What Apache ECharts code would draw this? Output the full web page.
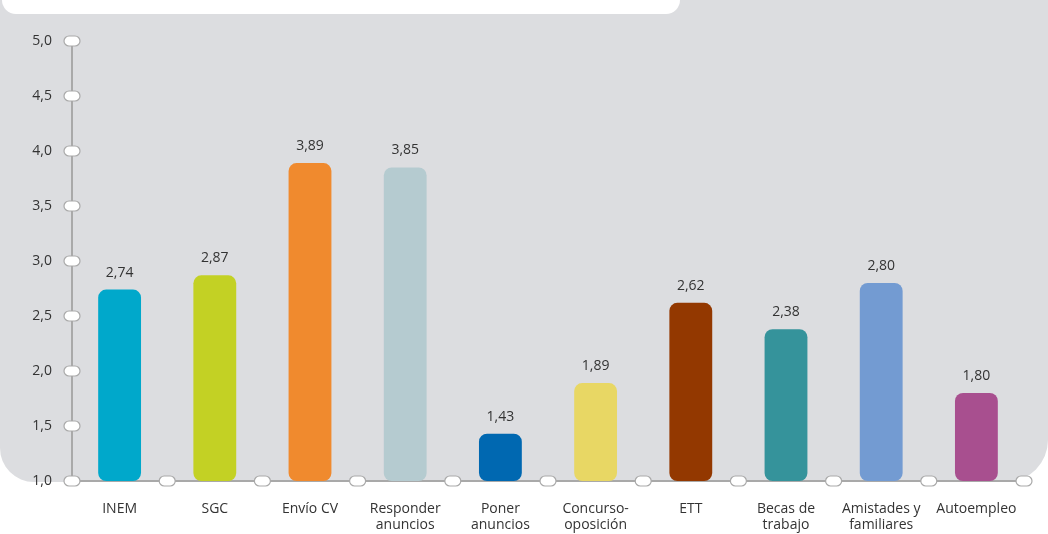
<!DOCTYPE html>
<html><head><meta charset="utf-8">
<script src="https://cdn.jsdelivr.net/npm/echarts@6/dist/echarts.min.js"></script>
<style>html,body{margin:0;padding:0;background:#fff}#c{width:1048px;height:534px}</style>
</head><body><div id="c"></div>
<script>
const categories = ['INEM','SGC','Envío CV','Responder\nanuncios','Poner\nanuncios','Concurso-\noposición','ETT','Becas de\ntrabajo','Amistades y\nfamiliares','Autoempleo'];
const values = [2.74, 2.87, 3.89, 3.85, 1.43, 1.89, 2.62, 2.38, 2.80, 1.80];
const colors = ['#00a8cb','#c3d124','#f08a2e','#b5cbd0','#0068b1','#e8d764','#933800','#35939b','#739bd2','#a84f8f'];
const yTicks = [1.0,1.5,2.0,2.5,3.0,3.5,4.0,4.5,5.0];
const xBounds = [0,1,2,3,4,5,6,7,8,9,10];

const fmt = v => v.toFixed(2).replace('.', ',');
const chart = echarts.init(document.getElementById('c'), null, {renderer:'canvas'});
const FONT = 'Open Sans';

function oval(x, y){
  return {type:'rect', shape:{x:x-8, y:y-5, width:16, height:10, r:5},
    style:{fill:'#fff', stroke:'#a9a9a9', lineWidth:1.2}, z2:10};
}

chart.setOption({
  animation:false,
  graphic:[
    {type:'rect', z:-10, shape:{x:0, y:-40, width:1048, height:522, r:[0,0,42,34]}, style:{fill:'#dcdde0'}},
    {type:'rect', z:-9, shape:{x:2, y:-40, width:678, height:54, r:[0,0,14,14]}, style:{fill:'#ffffff'}}
  ],
  grid:{left:72, right:24, top:41, bottom:53},
  xAxis:{type:'category', data:categories,
    axisLine:{lineStyle:{color:'#a9a9a9', width:2}},
    axisTick:{show:false},
    axisLabel:{color:'#333', fontSize:14, fontFamily:FONT, margin:20, lineHeight:16, interval:0}},
  yAxis:{type:'value', min:1, max:5, interval:0.5,
    axisLine:{show:true, lineStyle:{color:'#a9a9a9', width:2}},
    axisTick:{show:false}, splitLine:{show:false},
    axisLabel:{color:'#333', fontSize:14, fontFamily:FONT, margin:20, formatter:v=>v.toFixed(1).replace('.', ',')}},
  series:[
    {type:'bar', data:values.map((v,i)=>({value:v, itemStyle:{color:colors[i]}})),
      barWidth:'45%', itemStyle:{borderRadius:8},
      label:{show:true, position:'top', distance:10, color:'#333', fontSize:14, fontFamily:FONT, formatter:p=>fmt(p.value)}},
    {type:'custom', data:yTicks.map(v=>[0,v]), z:10, silent:true,
      renderItem:(params, api)=>{
        const p = api.coord([0, api.value(1)]);
        const bw = api.size([1,0])[0];
        return oval(p[0]-bw/2, p[1]);
      }},
    {type:'custom', data:xBounds.map(b=>[0,b]), z:10, silent:true,
      renderItem:(params, api)=>{
        const p = api.coord([0, 1]);
        const bw = api.size([1,0])[0];
        const b = api.value(1);
        if (b === 0) return null;
        return oval(p[0]-bw/2 + b*bw, p[1]);
      }}
  ]
});
</script></body></html>
